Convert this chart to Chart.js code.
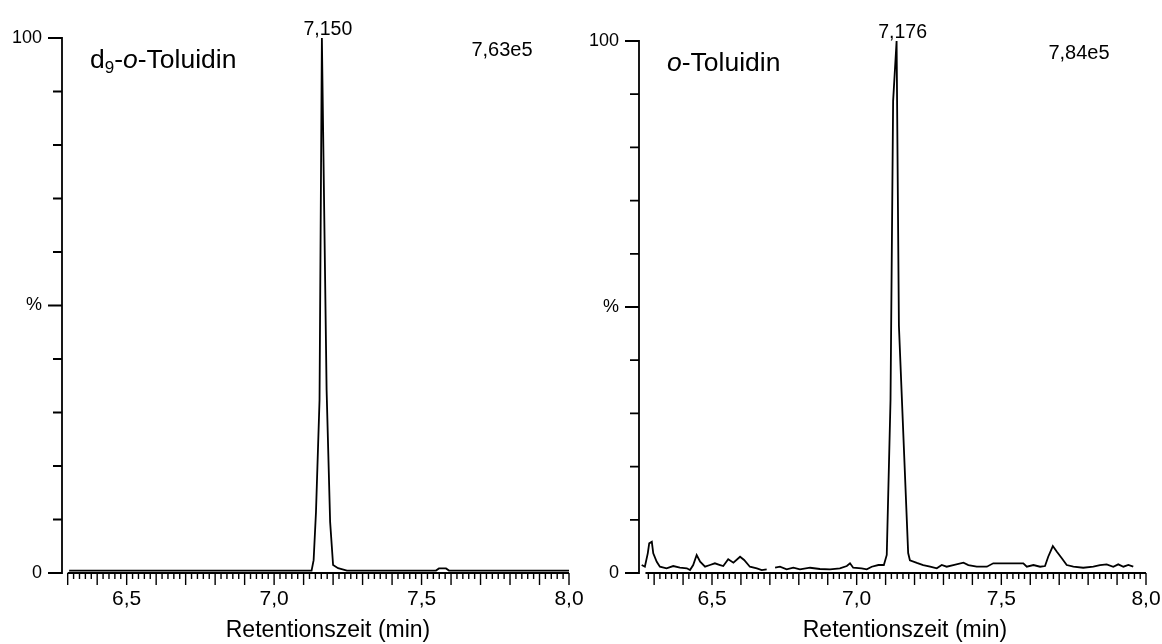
<!DOCTYPE html>
<html>
<head>
<meta charset="utf-8">
<script src="https://cdn.jsdelivr.net/npm/chart.js@4.4.0/dist/chart.umd.min.js"></script>
<style>
  html, body { margin: 0; padding: 0; background: #fff; }
  #wrap { position: relative; width: 1162px; height: 644px; overflow: hidden; }
  canvas { position: absolute; top: 0; }
  #left { left: 0; }
  #right { left: 581px; }
</style>
</head>
<body>
<div id="wrap">
  <canvas id="left" width="600" height="644"></canvas>
  <canvas id="right" width="581" height="644"></canvas>
</div>
<script>
// d9-o-Toluidin trace: retention time (min) / relative intensity (%)
const leftTimes  = [6.305, 7.100, 7.127, 7.134, 7.142, 7.154, 7.162, 7.178, 7.190, 7.200, 7.217, 7.247, 7.549, 7.559, 7.583, 7.593, 8.000];
const leftValues = [0.45, 0.45, 0.45, 2.4, 11.4, 32.3, 100, 34.2, 9.5, 1.5, 0.9, 0.45, 0.45, 0.85, 0.85, 0.45, 0.45];

// o-Toluidin trace (null = gap in the trace)
const rightTimes = [6.257, 6.268, 6.278, 6.283, 6.292, 6.297, 6.309, 6.320, 6.343, 6.366, 6.389, 6.413, 6.424, 6.435, 6.447,
  6.459, 6.476, 6.493, 6.510, 6.528, 6.539, 6.556, 6.574, 6.597, 6.611, 6.631, 6.655, 6.672, 6.689, 6.706, 6.718, 6.735,
  6.758, 6.781, 6.804, 6.839, 6.873, 6.908, 6.942, 6.966, 6.977, 6.988, 7.017, 7.035, 7.052, 7.075,
  7.094, 7.104, 7.117, 7.126, 7.138, 7.146, 7.178, 7.184, 7.208, 7.230, 7.254, 7.277, 7.294, 7.311, 7.334, 7.369,
  7.386, 7.415, 7.450, 7.472, 7.576, 7.588, 7.611, 7.634, 7.651, 7.662, 7.678, 7.692, 7.709, 7.726, 7.749, 7.783,
  7.818, 7.841, 7.864, 7.887, 7.904, 7.922, 7.939, 7.956];
const rightValues = [1.50, 1.18, 3.70, 5.57, 5.87, 3.70, 2.12, 1.18, 0.88, 1.31, 0.99, 0.88, 0.56, 1.50, 3.38,
  2.12, 1.18, 1.50, 1.82, 1.50, 1.31, 2.57, 1.93, 3.06, 2.44, 1.18, 0.88, 0.56, 0.69, null, 0.99, 1.18,
  0.69, 0.99, 0.69, 0.99, 0.75, 0.69, 0.88, 1.31, 1.82, 0.99, 0.88, 0.69, 1.18, 1.50,
  1.5, 3.4, 32.5, 88.7, 100, 46.5, 3.75, 2.4, 1.9, 1.5, 1.18, 0.88, 1.5, 1.18, 1.5, 1.93,
  1.5, 1.18, 1.18, 1.82, 1.82, 1.18, 1.5, 1.18, 1.31, 3.06, 5.07, 4.0, 2.76, 1.5, 1.18, 0.99,
  1.18, 1.5, 1.63, 1.18, 1.63, 1.18, 1.5, 1.18];

const xLabelValues = [6.5, 7.0, 7.5, 8.0];
const yLabelValues = [0, 50, 100];
const yLabelText   = ['0', '%', '100'];

const FONT = '"Liberation Sans", Arial, sans-serif';

// axes with minor/major ticks + annotations
const chromPlugin = {
  id: 'chrom',
  afterDraw(chart, args, o) {
    const ctx = chart.ctx, a = chart.chartArea;
    const xs = chart.scales.x, ys = chart.scales.y;
    const y0 = ys.getPixelForValue(0);
    ctx.save();
    ctx.strokeStyle = '#000';
    ctx.lineWidth = 1.8;

    ctx.beginPath();
    ctx.moveTo(a.left, ys.getPixelForValue(100));
    ctx.lineTo(a.left, y0);
    for (let v = 0; v <= 100; v += 10) {
      const py = ys.getPixelForValue(v);
      ctx.moveTo(a.left + 0.9, py);
      ctx.lineTo(a.left - (v % 50 === 0 ? 14 : 9), py);
    }
    ctx.stroke();

    ctx.beginPath();
    ctx.moveTo(xs.getPixelForValue(o.axisStart), y0);
    ctx.lineTo(xs.getPixelForValue(xs.max), y0);
    ctx.stroke();

    ctx.lineWidth = 1.4;
    ctx.beginPath();
    for (let k = Math.ceil(o.axisStart * 50 - 1e-6); k <= Math.floor(xs.max * 50 + 1e-6); k++) {
      const px = xs.getPixelForValue(k / 50);
      ctx.moveTo(px, y0);
      ctx.lineTo(px, y0 + (k % 5 === 0 ? 12 : 6));
    }
    ctx.stroke();

    ctx.fillStyle = '#000';
    ctx.textBaseline = 'alphabetic';

    // peak label over apex
    const ds = chart.data.datasets[0].data;
    let apex = ds[0];
    ds.forEach(d => { if (d.y != null && d.y > apex.y) apex = d; });
    ctx.textAlign = 'center';
    ctx.font = '19.5px ' + FONT;
    ctx.fillText(o.peakLabel, xs.getPixelForValue(apex.x) + 6, a.top - 3);

    ctx.font = '20px ' + FONT;
    ctx.fillText(o.intensity, a.right - 67, a.top + 18);

    ctx.font = '23px ' + FONT;
    ctx.fillText('Retentionszeit (min)', a.left + 266, 637);

    // compound name
    ctx.textAlign = 'left';
    let cx = a.left + 28;
    const by = a.top + 30;
    o.name.forEach(seg => {
      ctx.font = (seg.it ? 'italic ' : '') + (seg.sub ? '17px ' : '26.5px ') + FONT;
      ctx.fillText(seg.t, cx, by + (seg.sub ? 5 : 0));
      cx += ctx.measureText(seg.t).width;
    });
    ctx.restore();
  }
};

function makeChart(p) {
  return new Chart(document.getElementById(p.canvas), {
    type: 'line',
    data: {
      datasets: [{
        data: p.times.map((t, i) => ({ x: t, y: p.values[i] })),
        borderColor: '#000',
        borderWidth: 1.8,
        pointRadius: 0,
        tension: 0,
        fill: false,
        spanGaps: false
      }]
    },
    options: {
      responsive: false,
      animation: false,
      events: [],
      layout: { padding: { left: 0, right: p.padRight, top: p.top, bottom: 0 } },
      plugins: {
        legend: { display: false },
        tooltip: { enabled: false },
        chrom: { axisStart: p.axisStart, peakLabel: p.peakLabel, intensity: p.intensity, name: p.name }
      },
      scales: {
        x: {
          type: 'linear',
          min: p.xMin,
          max: 8.0,
          border: { display: false },
          grid: { display: false, drawTicks: false },
          afterBuildTicks: s => { s.ticks = xLabelValues.map(v => ({ value: v })); },
          afterFit: s => { s.height = 644 - 573; s.paddingLeft = 0; s.paddingRight = 0; },
          ticks: {
            autoSkip: false, maxRotation: 0, padding: 14, color: '#000',
            font: { family: FONT, size: 21 },
            callback: v => v.toFixed(1).replace('.', ',')
          }
        },
        y: {
          min: 0,
          max: 100,
          border: { display: false },
          grid: { display: false, drawTicks: false },
          afterBuildTicks: s => { s.ticks = yLabelValues.map(v => ({ value: v })); },
          afterFit: s => { s.width = p.left; s.paddingTop = 0; s.paddingBottom = 0; },
          ticks: {
            padding: 20, color: '#000',
            font: { family: FONT, size: 18 },
            callback: v => yLabelText[yLabelValues.indexOf(v)]
          }
        }
      }
    },
    plugins: [chromPlugin]
  });
}

makeChart({
  canvas: 'left', times: leftTimes, values: leftValues,
  left: 62, top: 38, padRight: 31, xMin: 6.2807, axisStart: 6.3,
  peakLabel: '7,150', intensity: '7,63e5',
  name: [{ t: 'd' }, { t: '9', sub: true }, { t: '-' }, { t: 'o', it: true }, { t: '-Toluidin' }]
});

makeChart({
  canvas: 'right', times: rightTimes, values: rightValues,
  left: 58, top: 41, padRight: 16, xMin: 6.2477, axisStart: 6.27,
  peakLabel: '7,176', intensity: '7,84e5',
  name: [{ t: 'o', it: true }, { t: '-Toluidin' }]
});
</script>
</body>
</html>
